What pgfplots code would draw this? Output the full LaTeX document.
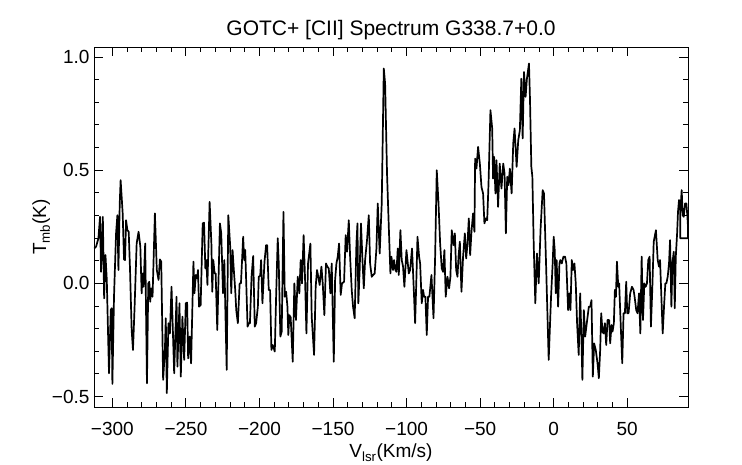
\documentclass[border=0pt]{standalone}
\usepackage{pgfplots}
\pgfplotsset{compat=1.18}
\usepackage{fontspec}
\setmainfont{Liberation Sans}
\begin{document}
\begin{tikzpicture}
\useasboundingbox (-94pt,-57pt) rectangle (648pt,407pt);
\begin{axis}[
  at={(0pt,0pt)}, anchor=south west,
  scale only axis, width=594pt, height=360pt,
  xmin=-312.5, xmax=91.3, ymin=-0.546, ymax=1.044,
  xtick={-300,-250,-200,-150,-100,-50,0,50},
  xticklabels={−300,−250,−200,−150,−100,−50,0,50},
  ytick={-0.5,0,0.5,1.0},
  yticklabels={−0.5,0.0,0.5,1.0},
  minor x tick num=4, minor y tick num=4,
  tick align=inside, tick pos=both,
  major tick length=9pt, minor tick length=5pt,
  axis line style={line width=0.9pt},
  every tick/.style={line width=0.9pt, black},
  tick label style={font=\fontsize{19}{22}\selectfont},
  xticklabel style={yshift=-12pt},
  yticklabel style={xshift=-1pt},
  title={GOTC+ [CII] Spectrum G338.7+0.0},
  title style={font=\fontsize{21}{24}\selectfont, yshift=-2pt},
  xlabel={V\textsubscript{lsr}(Km/s)},
  ylabel={T\textsubscript{mb}(K)},
  xlabel style={yshift=-1pt},
  ylabel style={yshift=-5pt},
  label style={font=\fontsize{19}{22}\selectfont},
  clip=true,
]
\addplot[black, line width=1.7pt, line join=round] table {
-312.4 0.154
-311.1 0.162
-309.5 0.199
-308.4 0.294
-307.7 0.051
-306.5 0.294
-305.6 -0.066
-304.7 0.125
-303.8 0.015
-302.3 -0.397
-301.1 -0.118
-300.5 -0.110
-300.0 -0.444
-298.9 -0.059
-297.5 0.221
-296.6 0.301
-295.9 0.059
-295.0 0.353
-294.4 0.456
-293.0 0.309
-292.1 0.106
-291.4 0.103
-290.7 0.279
-289.8 0.235
-288.9 0.228
-288.0 0.059
-286.9 -0.206
-286.0 -0.294
-284.9 -0.103
-283.5 0.176
-282.2 0.228
-281.0 0.162
-280.1 -0.044
-279.5 0.044
-278.8 -0.015
-277.7 0.176
-276.5 -0.441
-275.6 0.000
-274.9 0.007
-274.3 -0.081
-273.6 -0.022
-272.7 -0.059
-271.1 0.309
-269.8 0.059
-268.6 0.015
-267.7 0.106
-266.8 0.096
-265.5 -0.426
-264.3 -0.294
-263.7 -0.154
-263.0 -0.485
-261.9 -0.176
-260.9 -0.221
-259.8 -0.015
-259.1 -0.162
-258.0 -0.397
-256.4 -0.059
-255.8 -0.368
-254.4 -0.088
-253.5 -0.412
-252.4 -0.147
-251.2 -0.338
-250.1 -0.088
-249.2 -0.085
-248.5 -0.331
-247.4 -0.235
-246.5 -0.353
-244.9 0.096
-244.2 -0.044
-243.3 0.037
-242.4 0.022
-241.8 0.059
-241.1 -0.103
-240.0 -0.096
-238.6 0.265
-237.7 0.268
-236.8 0.066
-236.1 0.103
-235.4 -0.007
-233.9 0.360
-232.7 0.176
-232.1 -0.037
-231.4 0.103
-230.5 0.044
-229.8 0.044
-228.7 -0.206
-226.9 0.265
-226.0 0.221
-224.8 -0.044
-223.9 0.103
-223.3 -0.088
-222.3 -0.382
-221.2 0.301
-219.9 0.162
-219.2 -0.044
-218.3 0.147
-217.6 0.074
-216.5 -0.029
-215.8 -0.118
-214.7 -0.176
-213.5 0.000
-212.6 0.000
-212.0 0.081
-211.1 0.206
-210.4 0.103
-209.7 0.147
-209.0 0.000
-208.1 -0.191
-207.2 -0.176
-206.5 -0.176
-205.4 0.029
-204.3 0.121
-203.2 -0.191
-202.3 -0.176
-201.1 -0.103
-200.5 0.029
-199.5 0.034
-198.9 0.103
-198.0 -0.088
-196.6 0.096
-195.5 0.169
-194.8 0.169
-193.7 -0.029
-192.8 -0.029
-191.9 -0.294
-191.0 -0.272
-189.6 -0.301
-188.7 -0.059
-187.6 0.199
-186.9 0.088
-185.8 -0.235
-184.9 -0.213
-183.7 0.316
-182.8 -0.059
-181.9 -0.037
-181.0 -0.103
-180.4 -0.228
-179.7 -0.140
-178.8 -0.150
-177.4 -0.346
-176.3 0.000
-175.2 -0.162
-174.0 0.029
-172.9 -0.044
-172.0 0.103
-171.1 0.000
-170.0 0.213
-169.0 0.015
-168.1 -0.221
-167.0 0.088
-165.4 0.176
-164.5 -0.147
-162.9 -0.316
-161.8 -0.015
-160.9 0.059
-160.0 0.029
-159.1 -0.007
-157.9 0.074
-157.0 0.000
-155.9 -0.140
-154.8 0.088
-153.9 0.074
-152.9 0.066
-151.8 -0.044
-150.9 0.088
-149.5 -0.346
-148.6 0.015
-147.7 0.088
-146.8 0.118
-145.9 0.176
-144.8 -0.051
-143.9 0.000
-142.5 0.007
-141.4 0.213
-140.5 0.140
-139.3 0.279
-138.4 0.118
-137.3 -0.029
-136.4 -0.103
-135.3 -0.154
-134.1 0.176
-133.4 0.265
-132.8 -0.088
-131.9 0.059
-131.0 0.265
-130.0 0.103
-129.1 -0.022
-128.2 0.103
-126.9 0.191
-125.7 0.301
-124.8 0.088
-123.7 0.029
-122.8 0.037
-121.7 0.044
-120.5 0.154
-119.6 0.353
-118.3 0.132
-116.9 0.353
-115.5 0.949
-114.6 0.882
-113.3 0.485
-112.1 0.250
-111.0 0.044
-110.3 0.118
-109.2 0.059
-108.5 0.103
-107.6 0.059
-106.9 0.051
-106.0 0.154
-105.3 0.037
-104.2 0.235
-103.3 0.103
-102.4 0.074
-101.5 -0.015
-100.1 0.147
-99.4 0.103
-98.5 0.044
-97.6 0.059
-96.3 0.154
-95.1 -0.029
-94.2 -0.176
-93.3 0.029
-92.6 0.206
-91.5 0.118
-90.8 0.088
-89.7 -0.088
-88.8 -0.029
-88.1 -0.059
-87.2 -0.059
-86.3 -0.228
-85.4 -0.059
-84.5 -0.059
-83.1 0.037
-81.7 -0.154
-80.6 0.118
-79.5 0.500
-78.3 0.353
-77.2 0.176
-76.1 0.066
-75.2 0.051
-74.3 0.147
-73.4 -0.059
-72.2 0.029
-71.1 -0.022
-70.2 0.029
-69.3 0.235
-68.1 0.169
-67.2 0.221
-66.3 0.059
-65.4 0.029
-64.7 0.118
-63.8 0.184
-62.7 -0.037
-61.6 0.118
-60.4 0.221
-59.5 0.110
-58.6 0.176
-57.7 0.287
-56.8 0.125
-55.9 0.228
-54.8 0.309
-53.9 0.228
-53.4 0.551
-52.5 0.507
-51.4 0.603
-50.2 0.529
-49.1 0.426
-48.0 0.397
-47.1 0.265
-46.1 0.287
-45.2 0.279
-44.3 0.441
-43.0 0.765
-41.8 0.684
-41.2 0.463
-40.5 0.559
-39.6 0.397
-38.9 0.544
-37.8 0.338
-36.7 0.529
-35.5 0.419
-34.3 0.529
-33.4 0.485
-32.5 0.221
-31.6 0.471
-30.7 0.434
-29.8 0.507
-28.6 0.397
-27.5 0.618
-26.6 0.684
-25.2 0.515
-24.1 0.632
-23.0 0.676
-22.0 0.904
-21.1 0.640
-20.2 0.934
-19.1 0.824
-18.2 0.904
-16.8 0.971
-16.1 0.809
-15.2 0.515
-14.5 0.471
-13.6 0.176
-12.5 -0.088
-11.4 0.132
-10.2 0.000
-8.9 0.243
-7.5 0.412
-6.6 0.397
-5.2 0.088
-3.4 -0.338
-1.8 -0.059
-0.7 0.088
0.0 0.206
0.7 0.147
1.4 -0.044
2.0 0.103
3.0 -0.103
3.9 0.088
4.5 0.103
5.5 0.088
6.6 0.118
7.7 0.118
8.6 0.088
9.8 -0.118
10.7 -0.044
11.4 -0.118
12.3 0.103
13.2 0.059
14.1 0.088
15.0 0.000
15.9 -0.176
17.0 -0.316
18.0 -0.044
18.9 -0.250
19.5 -0.426
20.5 -0.118
21.4 -0.235
22.5 -0.176
23.9 -0.103
24.8 -0.103
25.7 -0.074
26.6 -0.412
27.5 -0.265
28.6 -0.294
29.8 -0.353
30.7 -0.419
31.6 -0.294
32.3 -0.132
33.2 -0.213
33.9 -0.221
34.8 -0.176
35.7 -0.272
36.6 -0.162
37.7 -0.162
38.4 -0.265
39.3 -0.184
40.0 -0.213
40.9 -0.176
41.6 -0.029
42.3 -0.059
43.0 0.096
43.9 -0.015
44.5 0.000
45.7 -0.206
46.6 -0.353
47.5 -0.132
48.4 -0.132
49.3 0.007
50.0 -0.132
50.9 -0.132
52.0 -0.044
53.2 -0.015
54.3 -0.029
55.0 -0.059
56.1 -0.118
57.0 -0.132
58.0 -0.044
58.9 -0.221
59.8 0.118
60.7 -0.162
61.6 0.000
62.5 -0.015
63.4 0.000
64.3 0.103
65.2 0.118
66.1 -0.191
67.0 -0.029
68.0 0.184
69.5 0.235
70.7 0.103
71.6 0.074
72.3 0.103
73.2 -0.059
74.1 -0.221
75.0 -0.103
75.9 0.000
76.6 0.000
77.5 0.029
78.4 0.088
79.1 0.191
80.0 -0.103
80.7 0.088
81.6 0.140
82.3 -0.110
83.0 0.118
83.9 0.221
84.5 0.316
85.2 0.368
86.1 0.316
87.0 0.412
87.7 0.301
88.4 0.294
89.3 0.353
90.2 0.353
90.9 0.294
91.3 0.250
91.3 0.199
86.0 0.199
86.0 0.360
};
\end{axis}
\end{tikzpicture}
\end{document}
